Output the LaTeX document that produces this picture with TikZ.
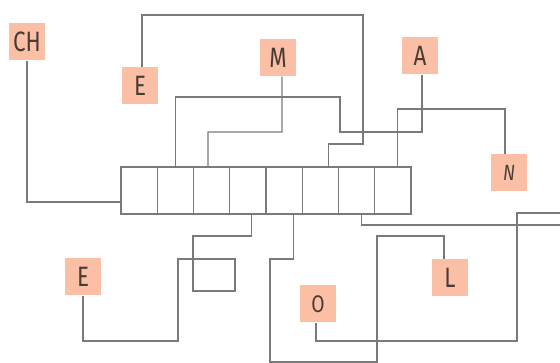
\documentclass[tikz,border=0pt]{standalone}
\usepackage{fontspec}
\setmainfont[FakeStretch=0.8]{Fira Sans}
\usepackage{tikz}
\usetikzlibrary{calc}
\definecolor{tilefill}{HTML}{FBBFA6}
\definecolor{tileink}{HTML}{4A3A34}
\definecolor{wiregray}{HTML}{7A7A7A}
\tikzset{tile/.style={fill=tilefill, text=tileink, minimum width=36pt, minimum height=37pt,
         inner sep=0pt, font=\fontsize{28}{28}\selectfont},
         cell/.style={draw=wiregray, line width=1.1pt, minimum width=36.25pt,
         minimum height=47pt, inner sep=0pt, outer sep=0pt},
         wire/.style={draw=wiregray, line width=1.2pt}}

\begin{document}
\begin{tikzpicture}[x=1pt, y=-1pt]
	\useasboundingbox (0,0) rectangle (560,363);
	\clip (0,0) rectangle (560,363);
	\foreach \i in {1,...,8}
		\node[cell] (c\i) at ({121+36.25*(\i-0.5)},190.5) {};
	\node[tile] (ch) at (27,42) {CH};
	\node[tile] (e1) at (140,86) {E};
	\node[tile] (m) at (278,58) {M};
	\node[tile] (a) at (420,56) {A};
	\node[tile, font=\fontsize{22}{22}\selectfont\itshape] (n) at (509,173) {N};
	\node[tile] (e2) at (83,277) {E};
	\node[tile, font=\fontsize{24}{24}\selectfont] (o) at (318,304) {O};
	\node[tile] (l) at (450,278) {L};
	\draw[wire] (ch.south) |- ([yshift=-11.5pt]c1.west);
	\draw[wire] ([xshift=2pt]e1.north) |- (363,15) -- (363,144) -| ([xshift=8pt]c6.north);
	\draw[wire] ([xshift=4pt]m.south) |- (208,132) -- ([xshift=-3.6pt]c3.north);
	\draw[wire] ([xshift=2pt]a.south) |- (340,132) -- (340,97) -| (c2.north);
	\draw[wire] ([xshift=-4pt]n.north) |- (398,109) -| ([xshift=5pt]c8.north);
	\draw[wire] ([xshift=4pt]c4.south) |- (193,236) -- (193,291) -| (235,259)
		-| (178,341) -| (e2.south);
	\draw[wire] ([xshift=9pt]c5.south) |- (270,259) |- (377,362) -- (377,236) -| ([xshift=-6pt]l.north);
	\draw[wire] ([xshift=5pt]c7.south) |- (565,225) -- (565,213) -| (517,341) -| ([xshift=-2pt]o.south);
\end{tikzpicture}
\end{document}
